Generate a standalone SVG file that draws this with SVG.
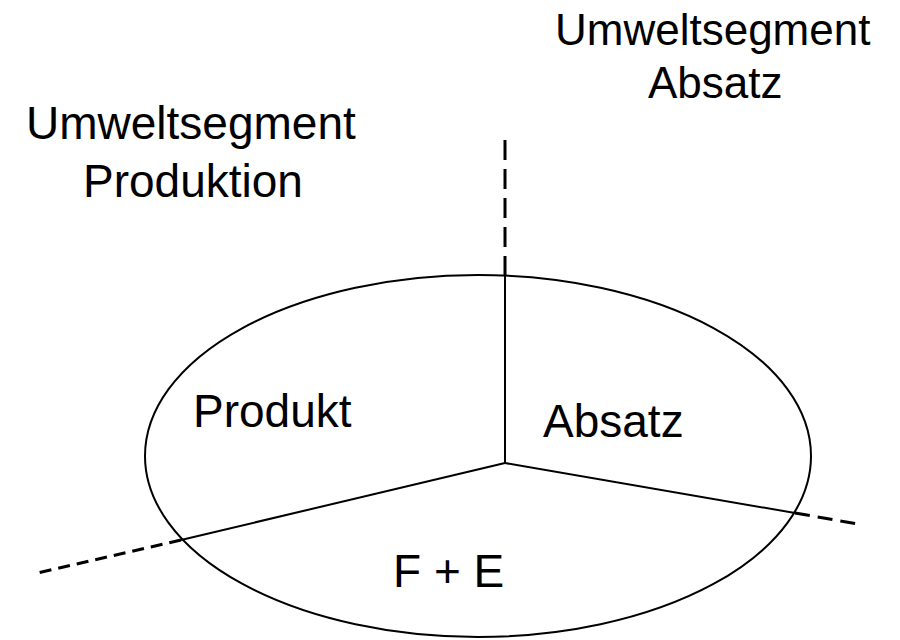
<svg xmlns="http://www.w3.org/2000/svg" width="900" height="640" viewBox="0 0 900 640">
<style>
text{font-family:"Liberation Sans",Arial,sans-serif;fill:#000}
.s{stroke:#000;stroke-width:2;fill:none}
.d{stroke:#000;stroke-width:3;fill:none}
</style>
<rect width="900" height="640" fill="#fff"/>
<g id="ellipse"><ellipse class="s" cx="478" cy="456" rx="333" ry="181"/></g>
<g id="connectors">
<line class="s" x1="505" y1="463" x2="505" y2="276"/>
<line class="d" x1="505" y1="276" x2="505" y2="133" stroke-dasharray="20 9"/>
<line class="s" x1="505" y1="463" x2="795" y2="513"/>
<line class="d" x1="795" y1="513" x2="858" y2="524" stroke-dasharray="15 8"/>
<line class="s" x1="505" y1="463" x2="181" y2="540"/>
<line class="d" x1="181" y1="540" x2="33" y2="574" stroke-dasharray="12 7"/>
</g>
<g id="label-produktion"><text x="26" y="139" font-size="46">Umweltsegment</text><text x="83" y="197" font-size="46">Produktion</text></g>
<g id="label-absatz-env"><text x="555" y="45" font-size="44">Umweltsegment</text><text x="648" y="98" font-size="44">Absatz</text></g>
<g id="produkt"><text x="193" y="427" font-size="46">Produkt</text></g>
<g id="absatz"><text x="543" y="437" font-size="46">Absatz</text></g>
<g id="fe"><text x="393" y="587" font-size="46">F + E</text></g>
</svg>
